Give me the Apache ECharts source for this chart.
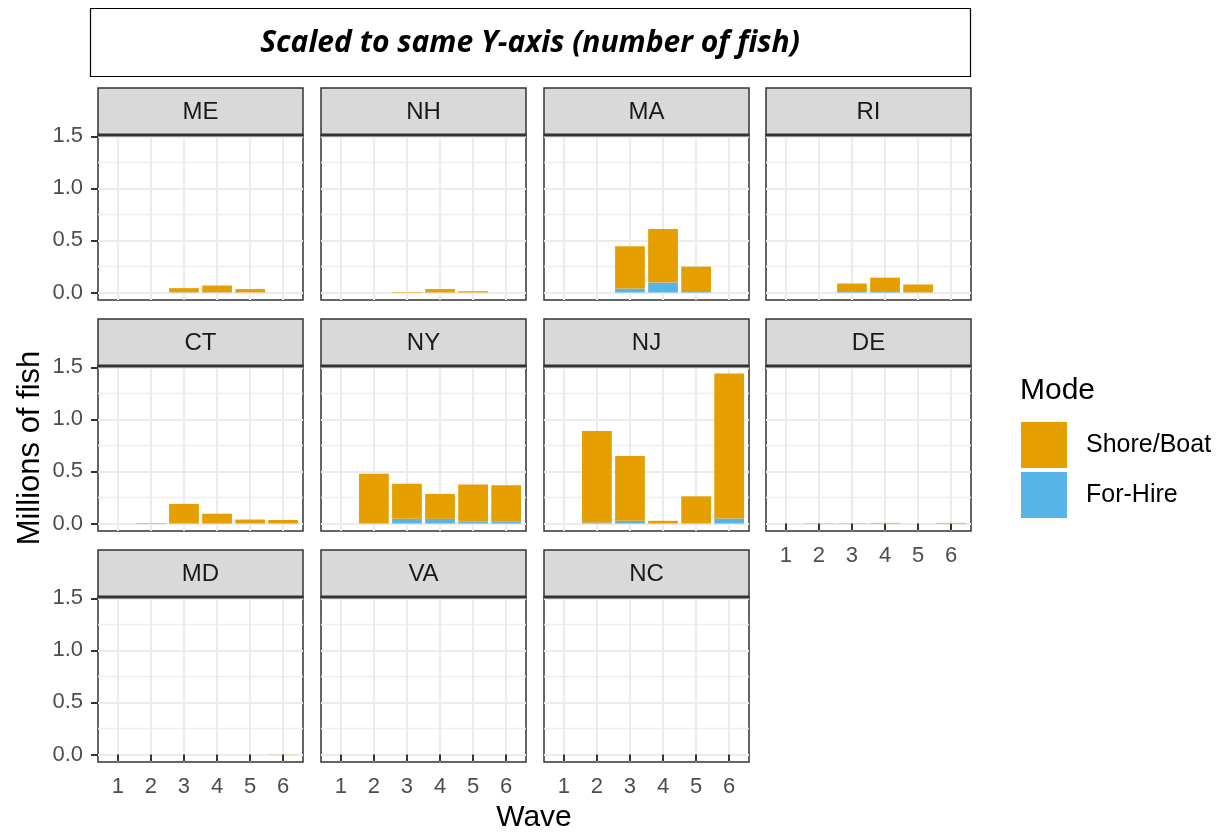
<!DOCTYPE html>
<html><head><meta charset="utf-8">
<script src="https://cdn.jsdelivr.net/npm/echarts@6/dist/echarts.min.js"></script>
<style>html,body{margin:0;padding:0;background:#fff}#c{width:1223px;height:833px}</style>
</head><body><div id="c"></div><script>
// ---- data (millions of fish) ----
const states = ['ME','NH','MA','RI','CT','NY','NJ','DE','MD','VA','NC'];
const waves = [1,2,3,4,5,6];
const modes = ['Shore/Boat','For-Hire'];
const shoreBoat = [
  [0, 0,     0.040, 0.065, 0.032, 0],      // ME
  [0, 0,     0.005, 0.033, 0.012, 0],      // NH
  [0, 0,     0.406, 0.515, 0.243, 0],      // MA
  [0, 0,     0.081, 0.138, 0.076, 0],      // RI
  [0, 0.005, 0.183, 0.090, 0.036, 0.033],  // CT
  [0, 0.478, 0.337, 0.239, 0.359, 0.350],  // NY
  [0, 0.878, 0.621, 0.026, 0.258, 1.392],  // NJ
  [0, 0.003, 0.003, 0.006, 0,     0.006],  // DE
  [0, 0,     0,     0,     0,     0.002],  // MD
  [0, 0,     0,     0,     0,     0],      // VA
  [0, 0,     0,     0,     0,     0]       // NC
];
const forHire = [
  [0, 0,     0.002, 0.002, 0.001, 0],      // ME
  [0, 0,     0,     0,     0,     0],      // NH
  [0, 0,     0.038, 0.095, 0.005, 0],      // MA
  [0, 0,     0.005, 0.005, 0.001, 0],      // RI
  [0, 0,     0.005, 0.004, 0.002, 0.001],  // CT
  [0, 0,     0.045, 0.045, 0.016, 0.016],  // NY
  [0, 0.010, 0.026, 0,     0.003, 0.048],  // NJ
  [0, 0,     0,     0,     0,     0],      // DE
  [0, 0,     0,     0,     0,     0],      // MD
  [0, 0,     0,     0,     0,     0],      // VA
  [0, 0,     0,     0,     0,     0]       // NC
];
const yTicks = [0, 0.5, 1.0, 1.5];
const yMinorTicks = [0.25, 0.75, 1.25];
const yMax = 1.44; // largest stacked total, used for ggplot-style 5% expansion

// ---- layout ----
const FONT = '"Liberation Sans", Arial, sans-serif';
const colLeft = [98, 321, 544, 766];
const rowTop = [135, 366, 597];
const PW = 205, PH = 165, SH = 47;
const ORANGE = '#E69F00', BLUE = '#56B4E9';

const grid = [], xAxis = [], yAxis = [], series = [], graphic = [];
const nCols = 4;
states.forEach((st, i) => {
  const r = Math.floor(i / nCols), c = i % nCols;
  const left = colLeft[c], top = rowTop[r];
  const showX = (i + nCols >= states.length);
  const showY = (c === 0);
  grid.push({left: left, top: top, width: PW, height: PH, show: true,
    borderColor: '#333', borderWidth: 1.5, backgroundColor: '#fff', containLabel: false});
  xAxis.push({type: 'value', gridIndex: i, min: 0.4, max: 6.6,
    axisLine: {show: false},
    axisTick: {show: showX, length: 7, lineStyle: {color: '#333', width: 2}, customValues: waves},
    axisLabel: {show: showX, customValues: waves, color: '#4D4D4D', fontSize: 22, fontFamily: FONT, margin: 14},
    splitLine: {show: true, lineStyle: {color: '#EBEBEB', width: 2}}
  });
  yAxis.push({type: 'value', gridIndex: i, min: -0.05 * yMax, max: 1.05 * yMax,
    axisLine: {show: false},
    axisTick: {show: showY, length: 7, lineStyle: {color: '#333', width: 2}, customValues: yTicks},
    axisLabel: {show: showY, customValues: yTicks, color: '#4D4D4D', fontSize: 22, fontFamily: FONT, margin: 15,
      formatter: v => v.toFixed(1)},
    splitLine: {show: true, lineStyle: {color: '#EBEBEB', width: 2}}
  });
  yAxis.push({type: 'value', gridIndex: i, min: -0.05 * yMax, max: 1.05 * yMax, position: 'left',
    axisLine: {show: false},
    axisTick: {show: false, customValues: yMinorTicks},
    axisLabel: {show: false, customValues: yMinorTicks},
    splitLine: {show: true, lineStyle: {color: '#EEEEEE', width: 1.3}}
  });
  // data given as [value, wave] so the library stacks the value dimension
  series.push({name: 'For-Hire', type: 'bar', stack: st, xAxisIndex: i, yAxisIndex: 2 * i,
    encode: {x: 1, y: 0}, barWidth: '90%', itemStyle: {color: BLUE}, silent: true, z: 3,
    data: waves.map((w, k) => [forHire[i][k], w])});
  series.push({name: 'Shore/Boat', type: 'bar', stack: st, xAxisIndex: i, yAxisIndex: 2 * i,
    encode: {x: 1, y: 0}, barWidth: '90%', itemStyle: {color: ORANGE}, silent: true, z: 3,
    data: waves.map((w, k) => [shoreBoat[i][k], w])});
  // strip
  graphic.push({type: 'rect', z: 100, shape: {x: left, y: top - SH, width: PW, height: SH},
    style: {fill: '#D9D9D9', stroke: '#333', lineWidth: 1.5}});
  graphic.push({type: 'line', z: 101, shape: {x1: left, y1: top, x2: left + PW, y2: top},
    style: {stroke: '#333', lineWidth: 3}});
  graphic.push({type: 'text', z: 102, x: left + PW / 2, y: top - SH / 2 + 1,
    style: {text: st, fill: '#1A1A1A', font: '24px ' + FONT, align: 'center', verticalAlign: 'middle'}});
});

// title box
graphic.push({type: 'rect', z: 100, shape: {x: 90.5, y: 8.5, width: 880, height: 68},
  style: {fill: '#fff', stroke: '#000', lineWidth: 1.2}});
graphic.push({type: 'text', z: 101, x: 530, y: 43,
  style: {text: 'Scaled to same Y-axis (number of fish)', fill: '#000',
    font: 'italic bold 30px "Open Sans", Lato, sans-serif', align: 'center', verticalAlign: 'middle'}});
// axis titles
graphic.push({type: 'text', z: 101, x: 30, y: 448, rotation: Math.PI / 2,
  style: {text: 'Millions of fish', fill: '#000', font: '31px ' + FONT, align: 'center', verticalAlign: 'middle'}});
graphic.push({type: 'text', z: 101, x: 534, y: 818,
  style: {text: 'Wave', fill: '#000', font: '30px ' + FONT, align: 'center', verticalAlign: 'middle'}});
// legend title
graphic.push({type: 'text', z: 101, x: 1020, y: 391,
  style: {text: 'Mode', fill: '#000', font: '30px ' + FONT, align: 'left', verticalAlign: 'middle'}});

const chart = echarts.init(document.getElementById('c'), null, {renderer: 'canvas'});
chart.setOption({
  animation: false,
  backgroundColor: '#fff',
  grid, xAxis, yAxis, series, graphic,
  legend: {data: modes, orient: 'vertical', left: 1016, top: 417, icon: 'rect',
    itemWidth: 46, itemHeight: 46, itemGap: 4, selectedMode: false,
    textStyle: {fontSize: 25, color: '#000', fontFamily: FONT, padding: [0, 0, 0, 14]}}
});
</script></body></html>
